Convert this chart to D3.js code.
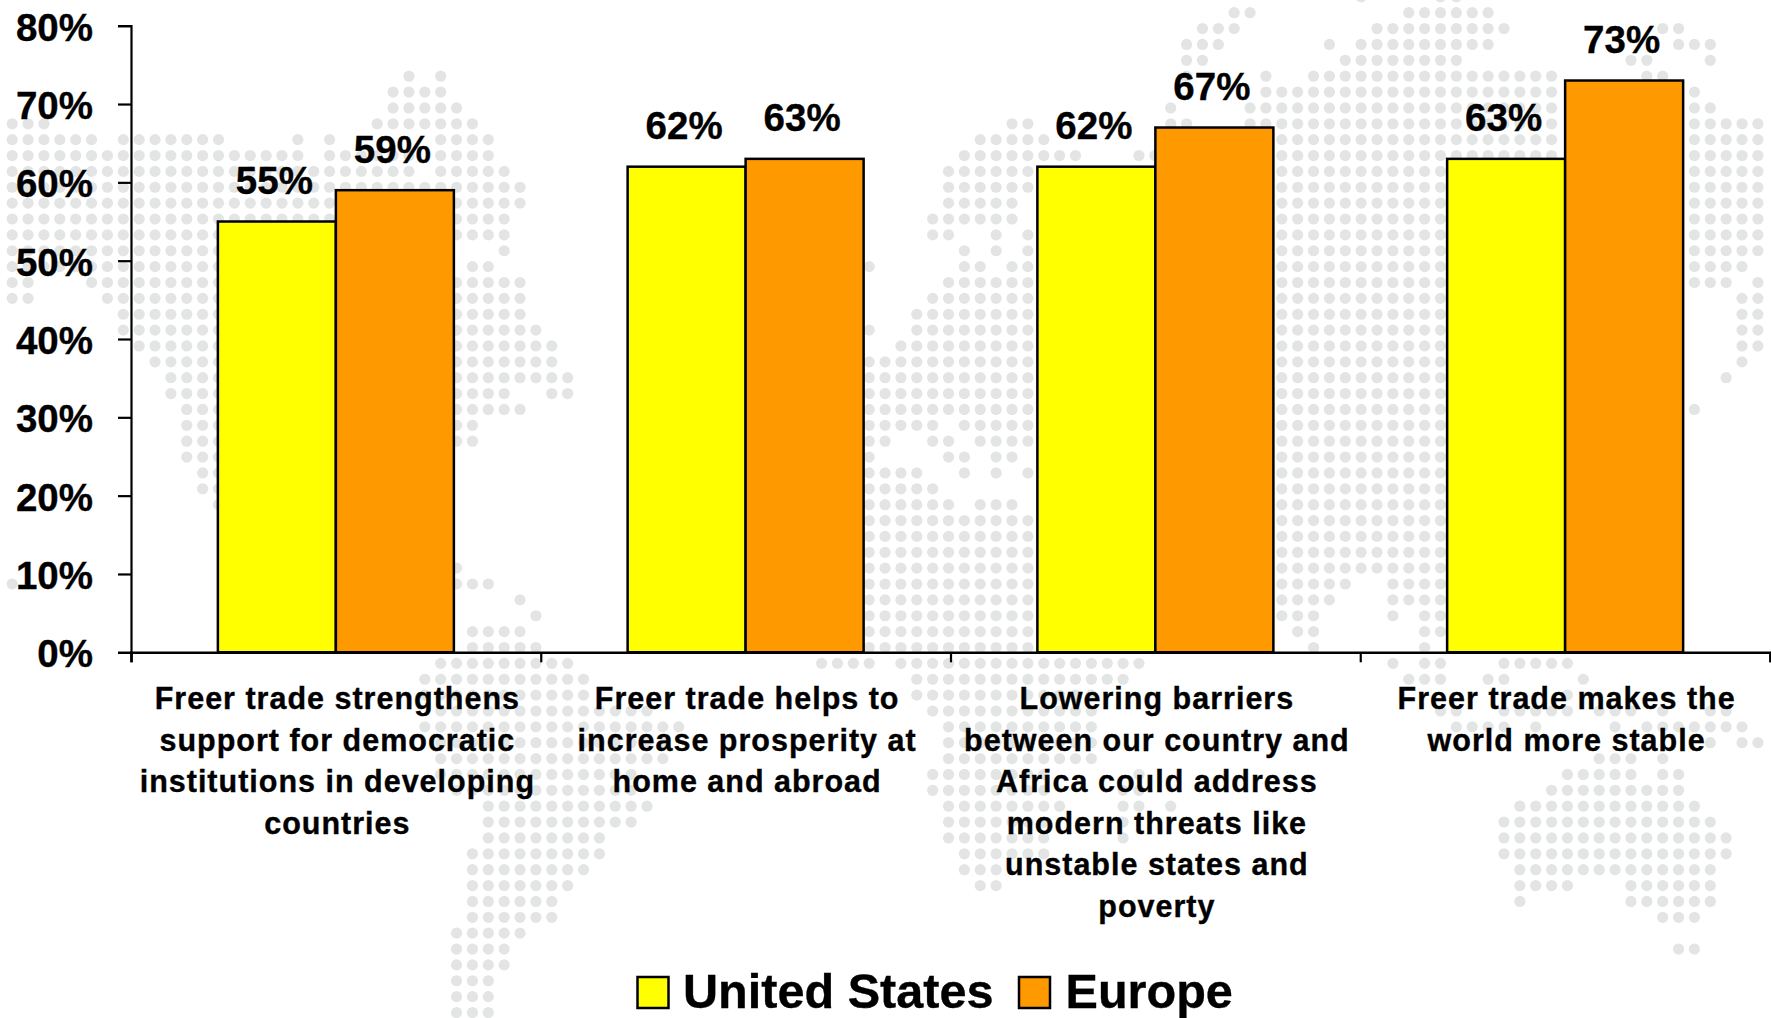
<!DOCTYPE html>
<html>
<head>
<meta charset="utf-8">
<script src="https://cdn.jsdelivr.net/npm/d3@7"></script>
<style>
html,body{margin:0;padding:0;background:#fff;overflow:hidden}
text{font-family:"Liberation Sans",Arial,sans-serif;font-weight:700;fill:#000;stroke:#000;stroke-width:0.35px}
</style>
</head>
<body>
<svg id="chart" width="1771" height="1018"></svg>
<script>
const categories = [
  ["Freer trade strengthens","support for democratic","institutions in developing","countries"],
  ["Freer trade helps to","increase prosperity at","home and abroad"],
  ["Lowering barriers","between our country and","Africa could address","modern threats like","unstable states and","poverty"],
  ["Freer trade makes the","world more stable"]
];
const seriesNames = ["United States","Europe"];
const unitedStates = [55,62,62,63];
const europe = [59,63,67,73];
const seriesColors = ["#FFFF00","#FF9900"];
const yTicks = [0,10,20,30,40,50,60,70,80];

// Decorative dotted world map: [row, firstCol, lastCol, firstCol, lastCol, ...] on a dot grid
const mapRows = [
[-1,85,85,90,91],[0,77,78,88,93],[1,75,77,86,94,104,105],[2,74,76,83,83,85,93,105,107],
[3,74,75,84,91,102,103,107,107],[4,25,25,27,27,74,74,79,79,82,97,103,104],
[5,24,27,79,97,106,106],[6,24,28,73,73,78,97,106,107],
[7,0,2,23,29,63,64,73,74,78,97,106,110],
[8,0,5,7,13,18,18,20,20,27,30,61,65,80,97,106,110],
[9,0,18,20,25,27,30,60,67,71,72,80,97,106,110],
[10,0,25,27,31,59,64,80,90,106,110],[11,0,32,59,64,80,90,106,110],[12,0,32,59,63,80,90,106,110],
[13,0,31,58,63,80,90,106,110],[14,0,31,58,59,62,62,64,64,80,90,106,110],
[15,0,27,31,31,60,60,62,62,64,64,80,90,106,110],[16,0,27,29,30,54,54,60,61,63,64,80,90,106,109],
[17,0,1,5,32,59,64,80,90,106,108,110,110],[18,0,1,6,32,58,64,80,90,109,110],
[19,7,32,57,64,80,90,109,110],[20,7,33,54,54,57,64,80,90,109,110],[21,8,34,56,64,80,90,109,110],
[22,9,34,54,64,80,90,109,109],[23,10,35,54,64,80,90,108,108],[24,10,31,34,35,54,64,80,90],
[25,11,32,54,64,80,90,106,106],[26,11,29,54,58,60,64,80,90],[27,11,29,54,55,58,59,61,64,80,90],
[28,11,15,54,54,59,60,62,63,80,90],[29,12,15,54,57,60,60,62,62,64,64,80,90],[30,12,15,54,58,80,90],
[31,13,15,54,59,61,63,80,90],[32,54,64,80,90],[33,54,64,80,90],[34,54,64,80,90],
[35,28,28,54,64,80,90],[36,0,0,28,30,54,64,80,84,87,90],[37,32,32,54,64,80,83,87,90],
[38,33,33,54,64,80,82,87,87,89,90],[39,29,32,54,64,81,82,89,90],[40,29,33,54,64,82,82,89,89],
[41,27,35,51,54,56,71,87,87,89,90,94,98],[42,26,36,57,70,88,90,93,94,99,99],
[43,26,36,57,68,98,98],[44,27,40,58,68,90,91,94,98,100,102,104,104,107,108],
[45,26,42,59,68,91,94,96,96,101,101,103,109],[46,27,41,59,68,107,107,109,110],
[47,27,41,59,68,100,102,104,104],[48,27,39,58,65,71,71,98,102,104,105],
[49,28,39,58,65,70,71,97,105],[50,30,40,59,66,70,71,73,73,95,106],[51,30,39,59,65,70,70,94,107],
[52,30,37,59,65,70,70,94,108],[53,29,37,60,65,94,108],[54,29,36,60,62,95,107],
[55,29,35,61,62,95,98,102,107],[56,29,34,95,95,102,107],[57,29,34,104,106],[58,28,32],
[59,28,31,105,106],[60,28,31],[61,28,30],[62,28,30],[63,28,30]
];

const svg = d3.select("#chart");
const inkWidth = 2.5;

const y = d3.scaleLinear().domain([0,80]).range([652.3,25.7]);
const xBoundary = d3.scaleLinear().domain([0,categories.length]).range([131,1770]);
const x0 = d3.scaleBand().domain(d3.range(categories.length)).range([131,1770]);
const barW = 118;
const x1 = d3.scaleBand().domain(d3.range(seriesNames.length)).range([x0.bandwidth()/2-barW, x0.bandwidth()/2+barW]);

// background map
const gridX = d3.scaleLinear().domain([0,1]).range([12.2,28.07]);
const gridY = d3.scaleLinear().domain([0,1]).range([12.7,28.57]);
const dots = [];
mapRows.forEach(r => {
  for (let k = 1; k < r.length; k += 2)
    d3.range(r[k], r[k+1]+1).forEach(c => dots.push({row:r[0], col:c}));
});
svg.append("g").attr("class","map").selectAll("circle").data(dots).join("circle")
  .attr("cx", d => gridX(d.col)).attr("cy", d => gridY(d.row)).attr("r",5.6).attr("fill","#E3E5E5");

// bars
const seriesValues = [unitedStates, europe];
const groups = svg.append("g").selectAll("g").data(categories).join("g")
  .attr("transform",(d,i)=>`translate(${x0(i)},0)`);
groups.each(function(_,i){
  const g = d3.select(this);
  const vals = seriesValues.map((s,k)=>({k, v:s[i]}));
  g.selectAll("rect").data(vals).join("rect")
    .attr("x",d=>x1(d.k)).attr("y",d=>y(d.v))
    .attr("width",x1.bandwidth()).attr("height",d=>y(0)-y(d.v))
    .attr("fill",d=>seriesColors[d.k]).attr("stroke","#000").attr("stroke-width",inkWidth);
  g.selectAll("text.val").data(vals).join("text").attr("class","val")
    .attr("x",d=>x1(d.k)+x1.bandwidth()/2-2.5).attr("y",d=>y(d.v)-27.5)
    .attr("text-anchor","middle").style("font-size","38.5px")
    .text(d=>d.v+"%");
});

// axes
const yAxis = d3.axisLeft(y).tickValues(yTicks).tickSize(13).tickPadding(25).tickFormat(d=>d+"%");
const gy = svg.append("g").attr("transform","translate(131,0)").call(yAxis);
gy.selectAll(".tick line").attr("stroke","#000").attr("stroke-width",2.2);
gy.select(".domain").attr("stroke","#000").attr("stroke-width",2.2);
gy.selectAll(".tick text").attr("dy",null).attr("y",14.5).style("font-size","38.5px").attr("font-family",null).attr("fill",null);

const xAxis = d3.axisBottom(xBoundary).ticks(categories.length).tickSize(10).tickSizeOuter(10).tickFormat("");
const gx = svg.append("g").attr("transform",`translate(0,${y(0)})`).call(xAxis);
gx.selectAll(".tick line").attr("stroke","#000").attr("stroke-width",2.2);
gx.select(".domain").attr("stroke","#000").attr("stroke-width",2.6);

// category labels
const lineStep = 41.5;
categories.forEach((lines,i)=>{
  const t = svg.append("text").attr("text-anchor","middle").style("font-size","30.5px").style("letter-spacing","1px");
  lines.forEach((ln,k)=>{
    t.append("tspan").attr("x",x0(i)+x0.bandwidth()/2+1.5).attr("y",709+k*lineStep).text(ln);
  });
});

// legend
const legendX = [637.5, 1019];
const legendTextX = [683, 1065.5];
seriesNames.forEach((n,i)=>{
  svg.append("rect").attr("x",legendX[i]).attr("y",977).attr("width",31).attr("height",31)
    .attr("fill",seriesColors[i]).attr("stroke","#000").attr("stroke-width",2.5);
  svg.append("text").attr("x",legendTextX[i]).attr("y",1007.5).style("font-size","48.6px").text(n);
});
</script>
</body>
</html>
